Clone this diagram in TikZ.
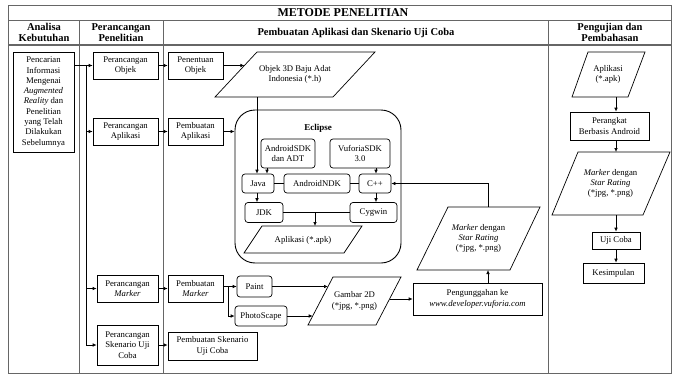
\documentclass[tikz,border=0pt]{standalone}
\usepackage{fontspec}
\setmainfont{Liberation Serif}
\usetikzlibrary{arrows.meta,calc}
\begin{document}
\begin{tikzpicture}[x=1pt,y=-1pt,
  bodyfont/.style={font=\fontsize{8.7}{10.3}\selectfont},
  box/.style={draw, line width=0.7pt, align=center, inner sep=1pt, bodyfont},
  rbox/.style={box, rounded corners=3pt},
  txt/.style={align=center, inner sep=1pt, bodyfont},
  par/.style={draw, line width=0.7pt},
  arr/.style={line width=0.7pt, -{Latex[length=4pt,width=3.6pt]}},
  ln/.style={line width=0.7pt},
  frame/.style={draw=black!60, line width=0.9pt},
  hd/.style={align=center, inner sep=0pt, font=\fontsize{10.5}{11.5}\selectfont\bfseries}]
\useasboundingbox (0,0) rectangle (673,375);
% frame
\draw[frame] (8,5) rectangle (671.5,373);
\draw[frame] (8,20) -- (671.5,20);
\draw[frame, line width=1.4pt] (8,45) -- (671.5,45);
\draw[frame] (79,20) -- (79,373);
\draw[frame] (163,20) -- (163,373);
\draw[frame] (548,20) -- (548,373);
% headers
\node[inner sep=0pt, font=\fontsize{12}{13}\selectfont\bfseries] (title) at (343,12.5) {METODE PENELITIAN};
\node[hd] (h1) at (44,32.5) {Analisa\\Kebutuhan};
\node[hd] (h2) at (121,32.5) {Perancangan\\Penelitian};
\node[hd] (h3) at (356,33) {Pembuatan Aplikasi dan Skenario Uji Coba};
\node[hd] (h4) at (610,32.5) {Pengujian dan\\Pembahasan};
% column 1
\node[box, minimum width=61pt, minimum height=100pt] (pencarian) at (43.5,102) {Pencarian\\Informasi\\Mengenai\\\textit{Augmented}\\\textit{Reality} dan\\Penelitian\\yang Telah\\Dilakukan\\Sebelumnya};
% column 2
\node[box, minimum width=65pt, minimum height=27pt] (pObj) at (125.5,65.5) {Perancangan\\Objek};
\node[box, minimum width=65pt, minimum height=27pt] (pApl) at (125.5,131.5) {Perancangan\\Aplikasi};
\node[box, minimum width=61pt, minimum height=27pt] (pMark) at (127.5,288.5) {Perancangan\\\textit{Marker}};
\node[box, minimum width=61pt, minimum height=40pt] (pSken) at (127.5,345) {Perancangan\\Skenario Uji\\Coba};
% column 3
\node[box, minimum width=55pt, minimum height=27pt] (penObj) at (195.5,65.5) {Penentuan\\Objek};
\node[box, minimum width=55pt, minimum height=27pt] (bApl) at (195.5,131.5) {Pembuatan\\Aplikasi};
\node[box, minimum width=55pt, minimum height=27pt] (bMark) at (195.5,288.5) {Pembuatan\\\textit{Marker}};
\node[box, minimum width=89pt, minimum height=28pt] (bSken) at (212.5,346) {Pembuatan Skenario\\Uji Coba};
% objek 3D parallelogram
\draw[par] (257,52) -- (375,52) -- (333,97) -- (215,97) -- cycle;
\node[txt] (o3d) at (295,74.5) {Objek 3D Baju Adat\\Indonesia (*.h)};
\coordinate (o3in) at (244.4,65.5);
\coordinate (o3out) at (257,97);
% Eclipse
\node[draw, line width=0.9pt, rounded corners=20pt, minimum width=166pt, minimum height=153pt] (eclipse) at (318,186.5) {};
\node[inner sep=0pt, font=\fontsize{9}{10}\selectfont\bfseries] (ecl) at (318,128) {Eclipse};
\node[rbox, minimum width=54pt, minimum height=29pt] (sdk) at (288,153.5) {AndroidSDK\\dan ADT};
\node[rbox, minimum width=60pt, minimum height=29pt] (vuf) at (360,153.5) {VuforiaSDK\\3.0};
\node[rbox, minimum width=32pt, minimum height=19pt] (java) at (258,183.5) {Java};
\node[rbox, minimum width=66pt, minimum height=19pt] (ndk) at (317,183.5) {AndroidNDK};
\node[rbox, minimum width=32pt, minimum height=19pt] (cpp) at (375,183.5) {C++};
\node[rbox, minimum width=38pt, minimum height=20pt] (jdk) at (264,212.5) {JDK};
\node[rbox, minimum width=47pt, minimum height=20pt] (cyg) at (373.5,212.5) {Cygwin};
\draw[par] (262,226) -- (362,226) -- (344,253) -- (244,253) -- cycle;
\node[txt] (aplEc) at (303,240) {Aplikasi (*.apk)};
\coordinate (aplTop) at (315,226);
\coordinate (jmid) at (315,212.5);
% marker row
\node[rbox, minimum width=35pt, minimum height=21pt] (paint) at (254.5,286.5) {Paint};
\node[rbox, minimum width=52pt, minimum height=20pt] (photo) at (261,316) {PhotoScape};
\draw[par] (333,277) -- (401,277) -- (376,325) -- (308,325) -- cycle;
\node[txt] (gambar) at (354.5,301) {Gambar 2D\\(*jpg, *.png)};
\coordinate (gIn1) at (328,286.5);
\coordinate (gIn2) at (312.7,316);
\coordinate (gOut) at (389.5,299);
\node[box, minimum width=129pt, minimum height=32pt] (upload) at (477.5,299) {Pengunggahan ke\\\textit{www.developer.vuforia.com}};
\draw[par] (448,207) -- (540,207) -- (510,270) -- (417,270) -- cycle;
\node[txt] (mk3) at (478.5,238.5) {\textit{Marker} dengan\\\textit{Star Rating}\\(*jpg, *.png)};
\coordinate (mkTop) at (488,207);
\coordinate (mkBot) at (488,270);
% column 4
\draw[par] (588,52) -- (645,52) -- (628,97) -- (572,97) -- cycle;
\node[txt] (apk4) at (608,74.5) {Aplikasi\\(*.apk)};
\coordinate (apkOut) at (616,97);
\node[box, minimum width=79pt, minimum height=28pt] (perangkat) at (609.5,126) {Perangkat\\Berbasis Android};
\draw[par] (578,152) -- (670,152) -- (643,215) -- (552,215) -- cycle;
\node[txt] (mk4) at (610.5,183.5) {\textit{Marker} dengan\\\textit{Star Rating}\\(*jpg, *.png)};
\coordinate (mk4Top) at (616,152);
\coordinate (mk4Bot) at (616,215);
\node[box, minimum width=48pt, minimum height=17pt] (uji) at (616,240.5) {Uji Coba};
\node[box, minimum width=61pt, minimum height=20pt] (kesim) at (613.5,273) {Kesimpulan};
% connectors column 1-2
\coordinate (trunk) at (86,65.5);
\draw[arr] (pencarian.east |- pObj.west) -- (pObj.west);
\draw[arr] (trunk) |- (pSken.west);
\draw[arr] (trunk |- pApl.west) -- (pApl.west);
\draw[arr] (trunk |- pMark.west) -- (pMark.west);
% column 2-3
\draw[arr] (pObj.east) -- (penObj.west);
\draw[arr] (pApl.east) -- (bApl.west);
\draw[arr] (pMark.east) -- (bMark.west);
\draw[arr] (pSken.east) -- (pSken.east -| bSken.west);
% column 3 internals
\draw[arr] (penObj.east) -- (o3in);
\draw[arr] (bApl.east) -- (bApl.east -| eclipse.west);
\draw[arr] (o3out) -- (o3out |- java.north);
\draw[arr] (sdk.south -| 267,0) -- (java.north -| 267,0);
\draw[arr] (vuf.south -| 376,0) -- (cpp.north -| 376,0);
\draw[ln] (java.east) -- (ndk.west);
\draw[ln] (ndk.east) -- (cpp.east -| cpp.west);
\draw[arr] (java.south -| o3out) -- (jdk.north -| o3out);
\draw[arr] (cpp.south -| 376,0) -- (cyg.north -| 376,0);
\draw[ln] (jdk.east) -- (cyg.west);
\draw[arr] (jmid) -- (aplTop);
\draw[arr] (mkTop) |- (cpp.east);
\draw[arr] (upload.north -| mkBot) -- (mkBot);
\draw[arr] (gOut) -- (upload.west);
\coordinate (split) at ($(bMark.east |- paint.west)+(5,0)$);
\draw[arr] (bMark.east |- paint.west) -- (paint.west);
\draw[arr] (split) |- (photo.west);
\draw[arr] (paint.east) -- (gIn1);
\draw[arr] (photo.east) -- (gIn2);
% column 4
\draw[arr] (apkOut) -- (apkOut |- perangkat.north);
\draw[arr] (perangkat.south -| mk4Top) -- (mk4Top);
\draw[arr] (mk4Bot) -- (mk4Bot |- uji.north);
\draw[arr] (uji.south) -- (uji.south |- kesim.north);
\end{tikzpicture}
\end{document}
